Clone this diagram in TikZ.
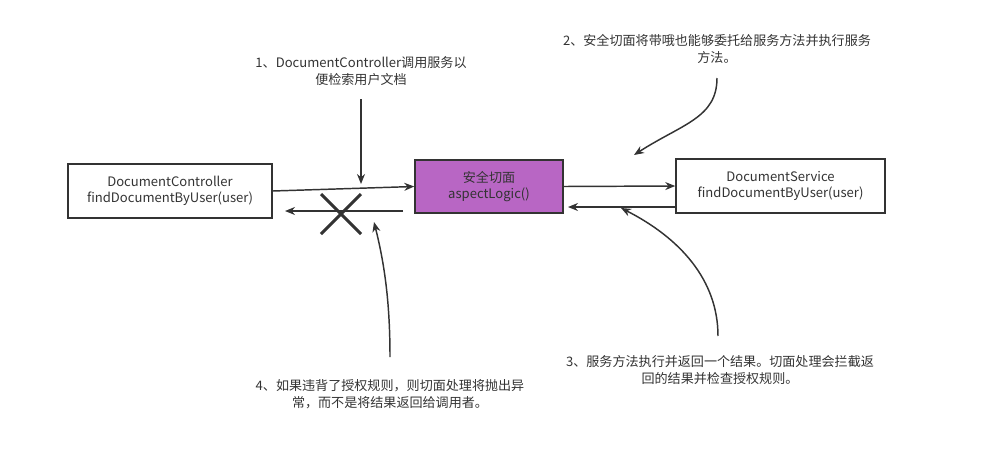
\documentclass[tikz,border=0pt]{standalone}
\usepackage{fontspec}
\setmainfont{Noto Sans CJK SC}
\usetikzlibrary{arrows.meta}
\definecolor{inkgray}{RGB}{51,51,51}
\definecolor{aspectpurple}{RGB}{184,102,196}

\begin{document}
\begin{tikzpicture}[x=0.75pt,y=-0.75pt]
\tikzset{
  classbox/.style={draw=inkgray,line width=1.1pt,minimum width=#1,minimum height=40.5pt,
    align=center,font=\fontsize{9.8}{12}\selectfont,text=inkgray},
  note/.style={align=center,font=\fontsize{9.8}{12.5}\selectfont,text=inkgray},
  flow/.style={-{Stealth[length=7.5pt,width=6pt]},draw=inkgray,line width=1.1pt}
}
\useasboundingbox (0,0) rectangle (983,461);
\node[classbox=153pt] (n_ctrl) at (170,191) {DocumentController\\findDocumentByUser(user)};
\node[classbox=111pt,minimum height=39.75pt,fill=aspectpurple] (n_aspect) at (489,186.5) {安全切面\\aspectLogic()};
\node[classbox=156.75pt] (n_service) at (780.5,186) {DocumentService\\findDocumentByUser(user)};
\node[note] (n_note1) at (361,71) {1、DocumentController调用服务以\\便检索用户文档};
\node[note] (n_note2) at (717,49) {2、安全切面将带哦也能够委托给服务方法并执行服务\\方法。};
\node[note] (n_note3) at (720,370) {3、服务方法执行并返回一个结果。切面处理会拦截返\\回的结果并检查授权规则。};
\node[note] (n_note4) at (390,394) {4、如果违背了授权规则，则切面处理将抛出异\\常，而不是将结果返回给调用者。};
\coordinate (c_back_start) at (403,211);
\coordinate (c_back_end) at (285,211);
\coordinate (c_ret_start) at (676,207);
\coordinate (c_ret_end) at (568,207);
\coordinate (c_one_start) at (361,99);
\coordinate (c_one_end) at (361,184);
\coordinate (c_two_start) at (717,78);
\coordinate (c_two_end) at (634,155);
\coordinate (c_three_start) at (718,336);
\coordinate (c_three_end) at (621,208);
\coordinate (c_four_start) at (390,357);
\coordinate (c_four_end) at (374,222);
\coordinate (c_cross) at (341,214);
\draw[flow] (n_ctrl.east) -- (n_aspect.west);
\draw[flow] (n_aspect.east) -- (n_service.west);
\draw[flow] (c_ret_start) -- (c_ret_end);
\draw[flow] (c_back_start) -- (c_back_end);
\draw[inkgray,line width=2.2pt] ([shift={(-20,-20)}]c_cross) -- ([shift={(20,20)}]c_cross);
\draw[inkgray,line width=2.2pt] ([shift={(20,-20)}]c_cross) -- ([shift={(-20,20)}]c_cross);
\draw[flow] (c_one_start) -- (c_one_end);
\draw[flow] (c_two_start) .. controls (717,118) and (682,124) .. (c_two_end);
\draw[flow] (c_three_start) .. controls (718,280) and (680,238) .. (c_three_end);
\draw[flow] (c_four_start) .. controls (390,300) and (384,262) .. (c_four_end);
\end{tikzpicture}
\end{document}
